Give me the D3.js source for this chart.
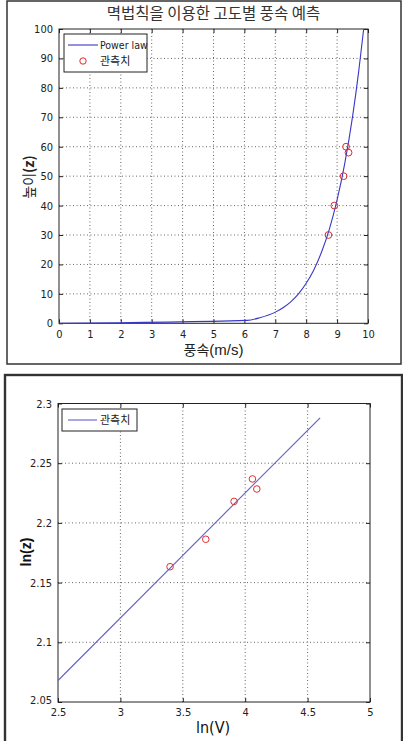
<!DOCTYPE html>
<html><head><meta charset="utf-8">
<script src="https://cdn.jsdelivr.net/npm/d3@7"></script>
<style>
body{margin:0;background:#fff;}
svg{display:block;}
.tick text{font-family:"Liberation Sans Narrow","Arial Narrow","DejaVu Sans Condensed",sans-serif;font-size:11px;fill:#222;}
</style></head>
<body>
<svg id="c" width="403" height="741"></svg>
<script>
// ---- Top chart data ----
const topTitle = "멱법칙을 이용한 고도별 풍속 예측";
const topXTicks = [0,1,2,3,4,5,6,7,8,9,10];
const topYTicks = [0,10,20,30,40,50,60,70,80,90,100];
// power-law curve (speed m/s, height)
const curveSpeed  = [0, 6.09, 6.5, 7, 7.25, 7.5, 7.75, 8, 8.25, 8.5, 8.75, 9, 9.25, 9.5, 9.7, 9.86];
const curveHeight = [0, 1, 1.9, 3.8, 5.3, 7.3, 10, 13.6, 18.2, 24.3, 32, 41.9, 54.4, 70.2, 85.7, 100];
// observations
const obsSpeed  = [8.72, 8.91, 9.21, 9.29, 9.37];
const obsHeight = [30, 40, 50, 60, 58];

// ---- Bottom chart data ----
const botXTicks = [2.5,3,3.5,4,4.5,5];
const botYTicks = [2.05,2.1,2.15,2.2,2.25,2.3];
const fitLnX = [2.5, 4.6];
const fitLnY = [2.068, 2.288];
const obsLnX = [3.398, 3.684, 3.911, 4.058, 4.093];
const obsLnY = [2.1633, 2.1863, 2.218, 2.2368, 2.2284];

const svg = d3.select("#c");
const narrow = '"Liberation Sans Narrow","Arial Narrow","DejaVu Sans Condensed",sans-serif';
const kor = '"Noto Sans CJK KR","Noto Sans",sans-serif';

function panel(opt){
  const g = svg.append("g");
  // outer frame
  const frame = g.append("rect").attr("x",opt.frame[0]).attr("y",opt.frame[1])
    .attr("width",opt.frame[2]-opt.frame[0]).attr("height",opt.frame[3]-opt.frame[1])
    .attr("fill","#fff").attr("stroke","#333").attr("stroke-width",opt.fw);
  const x = d3.scaleLinear().domain(opt.xd).range([opt.l,opt.r]);
  const y = d3.scaleLinear().domain(opt.yd).range([opt.b,opt.t]);
  // grid
  g.append("g").selectAll("line").data(opt.xt.slice(1,-1)).join("line")
    .attr("x1",d=>x(d)).attr("x2",d=>x(d)).attr("y1",opt.t).attr("y2",opt.b)
    .attr("stroke","#666").attr("stroke-dasharray","1,2.5").attr("stroke-width",1);
  g.append("g").selectAll("line").data(opt.yt.slice(1,-1)).join("line")
    .attr("x1",opt.l).attr("x2",opt.r).attr("y1",d=>y(d)).attr("y2",d=>y(d))
    .attr("stroke","#666").attr("stroke-dasharray","1,2.5").attr("stroke-width",1);
  // axes
  const fmt = opt.fmt;
  const ax = g.append("g").attr("transform",`translate(0,${opt.b})`)
    .call(d3.axisBottom(x).tickValues(opt.xt).tickSizeInner(-4).tickSizeOuter(0).tickPadding(7).tickFormat(d=>fmt(d)));
  const ay = g.append("g").attr("transform",`translate(${opt.l},0)`)
    .call(d3.axisLeft(y).tickValues(opt.yt).tickSizeInner(-4).tickSizeOuter(0).tickPadding(6).tickFormat(d=>fmt(d)));
  g.append("g").attr("transform",`translate(0,${opt.t})`)
    .call(d3.axisTop(x).tickValues(opt.xt).tickSizeInner(-4).tickSizeOuter(0).tickFormat(""));
  g.append("g").attr("transform",`translate(${opt.r},0)`)
    .call(d3.axisRight(y).tickValues(opt.yt).tickSizeInner(-4).tickSizeOuter(0).tickFormat(""));
  g.selectAll(".domain").remove();
  g.selectAll(".tick line").attr("stroke","#222");
  g.append("rect").attr("x",opt.l).attr("y",opt.t).attr("width",opt.r-opt.l).attr("height",opt.b-opt.t)
    .attr("fill","none").attr("stroke","#222").attr("stroke-width",1);
  return {g,x,y,ax,ay};
}

// ===== Top panel =====
const P1 = panel({frame:[7,1,401,364], fw:1.5, l:59, r:368, t:29, b:323.3, xd:[0,10], yd:[0,100],
  xt:topXTicks, yt:topYTicks, fmt:d=>d3.format("d")(d)});
const line1 = d3.line().x(d=>P1.x(d[0])).y(d=>P1.y(d[1])).curve(d3.curveMonotoneX);
P1.g.append("path").datum(curveSpeed.map((v,i)=>[v,curveHeight[i]]))
  .attr("d",line1).attr("fill","none").attr("stroke","#3838c8").attr("stroke-width",1.1);
P1.g.append("g").selectAll("circle").data(obsSpeed.map((v,i)=>[v,obsHeight[i]])).join("circle")
  .attr("cx",d=>P1.x(d[0])).attr("cy",d=>P1.y(d[1])).attr("r",3.4)
  .attr("fill","none").attr("stroke","#e02828").attr("stroke-width",1);
svg.append("text").attr("x",213.5).attr("y",19).attr("text-anchor","middle")
  .attr("font-family",kor).attr("font-size",15.5).attr("fill","#333").text(topTitle);
svg.append("text").attr("transform","translate(34,177) rotate(-90)").attr("text-anchor","middle")
  .attr("font-family",kor).attr("font-size",14).attr("fill","#222")
  .html('높이<tspan font-weight="bold">(z)</tspan>');
svg.append("text").attr("x",213.5).attr("y",355).attr("text-anchor","middle")
  .attr("font-family",kor).attr("font-size",14).attr("fill","#222")
  .html('풍속<tspan font-family=\'"Liberation Sans Narrow","Arial Narrow",sans-serif\' font-size="15">(m/s)</tspan>');
// legend
const L1 = P1.g.append("g");
L1.append("rect").attr("x",64).attr("y",34).attr("width",83).attr("height",38)
  .attr("fill","#fff").attr("stroke","#222").attr("stroke-width",1);
L1.append("line").attr("x1",68).attr("x2",98).attr("y1",45).attr("y2",45).attr("stroke","#3838c8").attr("stroke-width",1.1);
L1.append("text").attr("x",100).attr("y",48.5).attr("font-family",narrow).attr("font-size",10.5).attr("fill","#222").text("Power law");
L1.append("circle").attr("cx",83).attr("cy",61).attr("r",3.2).attr("fill","none").attr("stroke","#e02828");
L1.append("text").attr("x",100).attr("y",65).attr("font-family",kor).attr("font-size",11).attr("fill","#222").text("관측치");

// ===== Bottom panel =====
const P2 = panel({frame:[5,375,402,745], fw:2.4, l:58, r:370, t:403.5, b:702, xd:[2.5,5], yd:[2.05,2.3],
  xt:botXTicks, yt:botYTicks, fmt:d=>String(+d.toFixed(2))});
P2.ay.selectAll(".tick text").filter(d=>d===2.05).attr("dy","0.1em");
P2.ax.selectAll(".tick text").attr("dy","0.62em");
const line2 = d3.line().x(d=>P2.x(d[0])).y(d=>P2.y(d[1]));
P2.g.append("path").datum(fitLnX.map((v,i)=>[v,fitLnY[i]]))
  .attr("d",line2).attr("fill","none").attr("stroke","#6060c8").attr("stroke-width",1.1);
P2.g.append("g").selectAll("circle").data(obsLnX.map((v,i)=>[v,obsLnY[i]])).join("circle")
  .attr("cx",d=>P2.x(d[0])).attr("cy",d=>P2.y(d[1])).attr("r",3.3)
  .attr("fill","none").attr("stroke","#e03030").attr("stroke-width",1);
svg.append("text").attr("transform","translate(31,552) rotate(-90)").attr("text-anchor","middle")
  .attr("font-family",'"Liberation Sans",Arial,sans-serif').attr("font-weight","bold").attr("font-size",14).attr("fill","#111").text("ln(z)");
svg.append("text").attr("x",213).attr("y",733).attr("text-anchor","middle")
  .attr("font-family",narrow).attr("font-size",16).attr("fill","#111").text("ln(V)");
const L2 = P2.g.append("g");
L2.append("rect").attr("x",62).attr("y",409).attr("width",75).attr("height",22)
  .attr("fill","#fff").attr("stroke","#222").attr("stroke-width",1);
L2.append("line").attr("x1",68).attr("x2",97).attr("y1",420).attr("y2",420).attr("stroke","#6060c8").attr("stroke-width",1.1);
L2.append("text").attr("x",100).attr("y",424).attr("font-family",kor).attr("font-size",11).attr("fill","#222").text("관측치");
</script>
</body></html>
